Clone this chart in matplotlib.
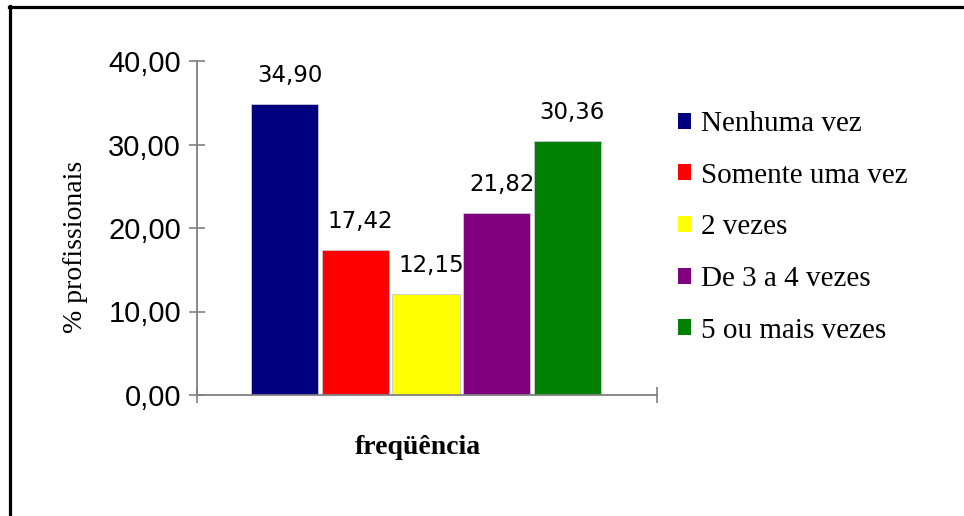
import matplotlib.pyplot as plt
from matplotlib.lines import Line2D
from matplotlib.patches import Patch

# data
categorias = ['Nenhuma vez', 'Somente uma vez', '2 vezes', 'De 3 a 4 vezes', '5 ou mais vezes']
valores = [34.90, 17.42, 12.15, 21.82, 30.36]
cores = ['#000080', '#FF0000', '#FFFF00', '#800080', '#008000']
yticks = [0, 10, 20, 30, 40]

W, H = 964, 516
fig = plt.figure(figsize=(W / 100, H / 100), dpi=100)
ax = fig.add_axes([197 / W, 1 - 395 / H, (657 - 197) / W, (395 - 61) / H])

pos = list(range(len(valores)))
ax.bar(pos, valores, width=0.95, color=cores, edgecolor='#c8c8d8', linewidth=0.6)

# value labels above each bar
for x, v in zip(pos, valores):
    ax.annotate(f'{v:.2f}'.replace('.', ','), (x, v), xytext=(5, 17),
                textcoords='offset pixels', ha='center', va='bottom',
                fontsize=16.5, family='DejaVu Sans')

ax.set_xlim(-1.24, 5.27)
ax.set_ylim(0, 40)
ax.set_yticks(yticks)
ax.set_yticklabels([f'{t:.2f}'.replace('.', ',') for t in yticks],
                   fontsize=21, family='Liberation Sans')
ax.set_xticks([-1.24, 5.27])
ax.set_xticklabels([])
ax.tick_params(axis='both', direction='inout', length=11, width=1.2,
               color='#808080', pad=6)

for s in ['top', 'right']:
    ax.spines[s].set_visible(False)
for s in ['left', 'bottom']:
    ax.spines[s].set_color('#808080')
    ax.spines[s].set_linewidth(1.3)

fig.text(75 / W, 1 - 247 / H, '% profissionais', rotation=90, ha='center',
         va='center', fontsize=20, family='Liberation Serif')
fig.text(418 / W, 1 - 448 / H, 'freqüência', ha='center', va='center',
         fontsize=20, fontweight='bold', family='Liberation Serif')

handles = [Patch(facecolor=c, edgecolor='none') for c in cores]
fig.legend(handles, categorias, loc='upper left',
           bbox_to_anchor=(678 / W, 1 - 111 / H), frameon=False,
           prop={'family': 'Liberation Serif', 'size': 21},
           handlelength=0.46, handleheight=0.46, handletextpad=0.34,
           labelspacing=0.88, borderpad=0, borderaxespad=0)

# frame lines along the top and left edge
fig.add_artist(Line2D([9 / W, 1], [1 - 7 / H, 1 - 7 / H], color='black', linewidth=2.3,
                      transform=fig.transFigure))
fig.add_artist(Line2D([9.5 / W, 9.5 / W], [0, 1 - 6 / H], color='black', linewidth=2.3,
                      transform=fig.transFigure))

fig.savefig('out.png', dpi=100)
